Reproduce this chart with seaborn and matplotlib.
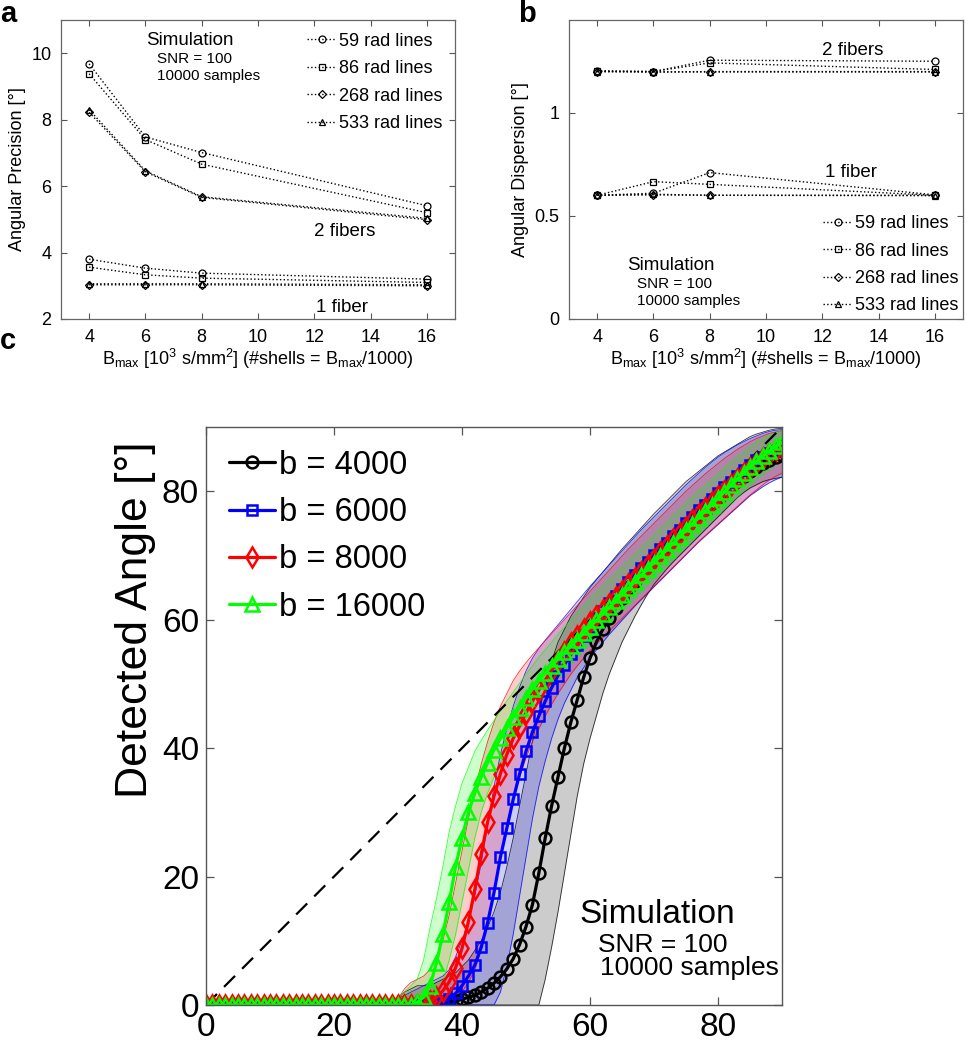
import numpy as np
import matplotlib
matplotlib.use('Agg')
import matplotlib.pyplot as plt
import seaborn as sns

# ---- panel a / b data (B_max in 10^3 s/mm^2) ----
bmax = [4, 6, 8, 16]
rad_labels = ['59 rad lines', '86 rad lines', '268 rad lines', '533 rad lines']
ab_markers = ['o', 's', 'D', '^']

# angular precision, 2 fibers
prec2_59 = [9.68, 7.48, 7.01, 5.41]
prec2_86 = [9.38, 7.40, 6.66, 5.20]
prec2_268 = [8.22, 6.43, 5.66, 4.99]
prec2_533 = [8.30, 6.46, 5.68, 5.03]
# angular precision, 1 fiber
prec1_59 = [3.80, 3.53, 3.38, 3.20]
prec1_86 = [3.56, 3.33, 3.23, 3.10]
prec1_268 = [3.03, 3.03, 3.03, 3.00]
prec1_533 = [3.06, 3.06, 3.06, 3.03]

# angular dispersion, 2 fibers
disp2_59 = [1.203, 1.200, 1.255, 1.250]
disp2_86 = [1.203, 1.200, 1.242, 1.210]
disp2_268 = [1.200, 1.198, 1.200, 1.200]
disp2_533 = [1.200, 1.198, 1.198, 1.198]
# angular dispersion, 1 fiber
disp1_59 = [0.600, 0.610, 0.710, 0.602]
disp1_86 = [0.600, 0.666, 0.653, 0.600]
disp1_268 = [0.600, 0.602, 0.600, 0.600]
disp1_533 = [0.600, 0.605, 0.600, 0.598]

# ---- panel c data: true crossing angle vs detected angle ----
angle = np.arange(0, 91)
b_labels = ['b = 4000', 'b = 6000', 'b = 8000', 'b = 16000']

b4000 = [0.0] * 37 + [
    0.2, 0.4, 0.6, 0.9, 1.2, 1.5, 2.0, 2.6, 3.4, 4.4,
    5.6, 7.2, 9.4, 12.2, 15.6, 20.5, 26.0, 31.0, 35.5, 40.0,
    44.0, 47.5, 51.0, 54.0, 56.5, 58.5, 60.2, 61.8, 63.3, 64.7,
    66.0, 67.2, 68.4, 69.5, 70.5, 71.5, 72.5, 73.5, 74.5, 75.5,
    76.4, 77.3, 78.2, 79.1, 80.0, 80.8, 81.6, 82.4, 83.1, 83.8,
    84.4, 84.9, 85.3, 85.6]
b4000_lo = [0.0] * 53 + [
    4.0, 9.0, 14.5, 20.5, 26.5, 32.5, 37.5, 41.5, 45.0, 48.5,
    51.5, 54.0, 56.5, 58.5, 60.5, 62.3, 64.0, 65.5, 66.7, 67.9,
    69.0, 70.0, 71.0, 72.0, 73.0, 74.0, 75.0, 76.0, 77.0, 78.0,
    79.0, 79.8, 80.5, 81.0, 81.5, 81.8, 82.0, 82.2]
b4000_hi = [0.5] * 30 + [
    1.0, 2.0, 2.5, 3.0, 3.0, 3.0, 3.5, 4.0, 4.5, 5.0,
    6.0, 7.0, 8.5, 10.0, 12.0, 14.5, 17.5, 21.5, 26.0, 31.0,
    36.0, 41.0, 45.5, 49.5, 53.5, 56.5, 58.5, 60.5, 62.0, 63.5,
    65.0, 66.2, 67.4, 68.6, 69.8, 71.0, 72.1, 73.2, 74.3, 75.4,
    76.5, 77.5, 78.5, 79.5, 80.5, 81.5, 82.3, 83.1, 83.9, 84.7,
    85.5, 86.1, 86.7, 87.3, 87.9, 88.5, 88.9, 89.2, 89.5, 89.7, 89.8]

b6000 = [0.0] * 36 + [
    0.3, 0.6, 1.0, 1.8, 3.0, 4.5, 6.2, 9.0, 12.8, 17.5,
    23.0, 27.5, 32.0, 36.0, 39.5, 42.5, 45.0, 47.3, 49.4, 51.3,
    53.0, 54.6, 56.1, 57.5, 58.9, 60.2, 61.4, 62.6, 63.7, 64.8,
    65.9, 67.0, 68.0, 69.0, 70.0, 71.0, 72.0, 73.0, 74.0, 75.0,
    76.0, 77.0, 77.9, 78.8, 79.7, 80.6, 81.5, 82.4, 83.3, 84.1,
    84.8, 85.4, 85.9, 86.2, 86.3]
b6000_lo = [0.0] * 46 + [
    2.0, 6.0, 11.0, 17.0, 23.0, 29.0, 34.0, 38.0, 41.5, 44.5,
    47.0, 49.0, 51.0, 52.5, 54.0, 55.3, 56.5, 57.7, 58.8, 59.9,
    61.0, 62.1, 63.1, 64.1, 65.1, 66.1, 67.1, 68.1, 69.1, 70.1,
    71.1, 72.1, 73.0, 73.9, 74.8, 75.7, 76.6, 77.5, 78.4, 79.3,
    80.0, 80.7, 81.3, 81.8, 82.2]
b6000_hi = [0.5] * 30 + [
    1.0, 1.5, 2.0, 2.5, 3.0, 3.5, 4.0, 4.5, 5.5, 7.5,
    10.0, 13.0, 17.0, 22.0, 28.0, 34.0, 39.0, 43.0, 46.5, 49.5,
    52.0, 54.0, 55.5, 56.8, 58.0, 59.2, 60.4, 61.6, 62.8, 64.0,
    65.2, 66.3, 67.4, 68.5, 69.6, 70.7, 71.8, 72.9, 74.0, 75.0,
    76.0, 77.0, 78.0, 79.0, 80.0, 81.0, 81.9, 82.8, 83.7, 84.5,
    85.3, 86.0, 86.6, 87.2, 87.7, 88.2, 88.6, 89.0, 89.3, 89.5, 89.6]

b8000 = [0.0] * 34 + [
    0.3, 0.6, 1.2, 2.2, 3.6, 5.8, 8.8, 13.0, 18.0, 23.5,
    28.5, 32.5, 36.0, 39.0, 41.5, 43.5, 45.5, 47.3, 49.0, 50.6,
    52.1, 53.6, 55.0, 56.3, 57.5, 58.6, 59.6, 60.6, 61.5, 62.5,
    63.5, 64.5, 65.5, 66.5, 67.5, 68.5, 69.5, 70.5, 71.5, 72.5,
    73.5, 74.5, 75.5, 76.5, 77.4, 78.3, 79.2, 80.1, 81.0, 81.9,
    82.8, 83.6, 84.4, 85.1, 85.8, 86.4, 86.9]
b8000_lo = [0.0] * 38 + [
    0.5, 1.0, 2.0, 3.5, 5.5, 8.5, 13.0, 18.0, 23.0, 28.0,
    32.0, 35.5, 38.5, 41.0, 43.0, 45.0, 46.8, 48.5, 50.0, 51.5,
    52.8, 54.0, 55.2, 56.2, 57.2, 58.2, 59.2, 60.2, 61.2, 62.2,
    63.2, 64.2, 65.2, 66.2, 67.2, 68.2, 69.2, 70.2, 71.2, 72.2,
    73.1, 74.0, 74.9, 75.8, 76.7, 77.6, 78.5, 79.4, 80.2, 81.0,
    81.7, 82.3, 82.8]
b8000_hi = [0.5] * 30 + [
    1.0, 2.5, 3.5, 4.0, 4.5, 5.5, 7.5, 10.0, 14.0, 19.0,
    24.0, 29.0, 33.5, 37.5, 41.0, 44.0, 46.5, 48.5, 50.5, 52.0,
    53.3, 54.5, 55.6, 56.7, 57.8, 58.9, 60.0, 61.1, 62.2, 63.3,
    64.4, 65.5, 66.6, 67.7, 68.8, 69.9, 71.0, 72.0, 73.0, 74.0,
    75.0, 76.0, 77.0, 78.0, 79.0, 80.0, 80.9, 81.8, 82.7, 83.5,
    84.3, 85.1, 85.8, 86.5, 87.1, 87.7, 88.2, 88.6, 89.0, 89.2, 89.4]

b16000 = [0.0] * 33 + [
    0.4, 1.2, 3.0, 6.5, 11.0, 16.0, 21.5, 26.0, 30.0, 33.0,
    35.5, 37.7, 39.7, 41.5, 43.2, 44.8, 46.3, 47.8, 49.2, 50.5,
    51.7, 52.8, 53.9, 54.9, 55.9, 56.9, 57.9, 58.9, 59.9, 60.9,
    61.9, 62.9, 63.9, 64.9, 65.9, 66.9, 67.9, 68.9, 69.9, 70.9,
    71.9, 72.9, 73.9, 74.9, 75.9, 76.9, 77.9, 78.9, 79.9, 80.9,
    81.9, 82.9, 83.8, 84.7, 85.5, 86.3, 87.0, 87.6]
b16000_lo = [0.0] * 35 + [
    0.5, 1.5, 3.5, 7.0, 11.0, 16.0, 21.0, 26.0, 30.0, 33.0,
    35.5, 37.5, 39.5, 41.3, 43.0, 44.5, 45.9, 47.2, 48.5, 49.7,
    50.9, 52.0, 53.1, 54.2, 55.3, 56.4, 57.4, 58.4, 59.4, 60.4,
    61.4, 62.4, 63.4, 64.4, 65.4, 66.4, 67.4, 68.4, 69.4, 70.4,
    71.4, 72.4, 73.4, 74.4, 75.4, 76.4, 77.3, 78.2, 79.1, 80.0,
    80.9, 81.8, 82.6, 83.4, 84.1, 84.7]
b16000_hi = [0.5] * 30 + [
    1.0, 2.0, 3.0, 4.0, 7.0, 12.0, 16.5, 21.5, 27.0, 31.0,
    34.5, 37.0, 39.5, 41.2, 42.8, 44.3, 45.8, 47.3, 48.7, 50.1,
    51.5, 52.8, 54.1, 55.3, 56.5, 57.7, 58.8, 59.9, 61.0, 62.1,
    63.2, 64.2, 65.2, 66.2, 67.2, 68.2, 69.2, 70.2, 71.2, 72.2,
    73.2, 74.2, 75.2, 76.2, 77.2, 78.2, 79.1, 80.0, 80.9, 81.8,
    82.7, 83.6, 84.5, 85.3, 86.1, 86.9, 87.6, 88.2, 88.7, 89.1, 89.4]

# ---- style ----
sns.set_style('ticks', {'xtick.direction': 'in', 'ytick.direction': 'in'})
plt.rcParams['font.family'] = ['Liberation Sans', 'DejaVu Sans']
plt.rcParams['mathtext.fontset'] = 'custom'
plt.rcParams['mathtext.rm'] = 'Liberation Sans'
plt.rcParams['mathtext.default'] = 'regular'
plt.rcParams['text.color'] = 'black'
plt.rcParams['axes.labelcolor'] = 'black'
plt.rcParams['xtick.labelcolor'] = 'black'
plt.rcParams['ytick.labelcolor'] = 'black'

fig = plt.figure(figsize=(9.65, 10.5), dpi=100)
W, H = 965, 1050
ax_a = fig.add_axes([61 / W, 1 - 319 / H, 394 / W, 299 / H])
ax_b = fig.add_axes([569 / W, 1 - 319 / H, 394 / W, 299 / H])
ax_c = fig.add_axes([206 / W, 1 - 1005 / H, 576 / W, 578 / H])

xlab = r'B$_{max}$ [10$^{3}$ s/mm$^{2}$] (#shells = B$_{max}$/1000)'
fs_small = 13


def line_panel(ax, two_fib, one_fib):
    for vals, m in zip(two_fib + one_fib, ab_markers + ab_markers):
        sns.lineplot(x=bmax, y=vals, ax=ax, color='k', linestyle=':', linewidth=1.0,
                     marker=m, markersize=5 if m != 'D' else 4, markerfacecolor='none',
                     markeredgecolor='k', markeredgewidth=0.9)
    ax.set_xlim(3, 17)
    ax.set_xticks([4, 6, 8, 10, 12, 14, 16])
    ax.set_xlabel(xlab, fontsize=fs_small, labelpad=1)
    ax.tick_params(labelsize=fs_small, top=True, right=True, length=4,
                   width=0.8, color='#555555', pad=7)
    for s in ax.spines.values():
        s.set_color('#666666')
        s.set_linewidth(0.9)


# panel a
line_panel(ax_a, [prec2_59, prec2_86, prec2_268, prec2_533],
           [prec1_59, prec1_86, prec1_268, prec1_533])
ax_a.set_ylim(2, 11)
ax_a.set_yticks([2, 4, 6, 8, 10])
ax_a.set_ylabel('Angular Precision [°]', fontsize=fs_small, labelpad=4)
ax_a.legend(handles=ax_a.lines[:4], labels=rad_labels, loc='upper right',
            frameon=False, fontsize=13, handlelength=1.6, handletextpad=0.15,
            labelspacing=0.58, borderaxespad=0.5, borderpad=0.2)
ax_a.text(0.216, 0.916, 'Simulation', transform=ax_a.transAxes, fontsize=13.5)
ax_a.text(0.244, 0.856, 'SNR = 100', transform=ax_a.transAxes, fontsize=11)
ax_a.text(0.244, 0.800, '10000 samples', transform=ax_a.transAxes, fontsize=11)
ax_a.text(12.0, 4.5, '2 fibers', fontsize=13.5)
ax_a.text(12.05, 2.2, '1 fiber', fontsize=13.5)

# panel b
line_panel(ax_b, [disp2_59, disp2_86, disp2_268, disp2_533],
           [disp1_59, disp1_86, disp1_268, disp1_533])
ax_b.set_ylim(0, 1.45)
ax_b.set_yticks([0, 0.5, 1])
ax_b.set_yticklabels(['0', '0.5', '1'])
ax_b.set_ylabel('Angular Dispersion [°]', fontsize=fs_small, labelpad=4)
ax_b.legend(handles=ax_b.lines[:4], labels=rad_labels, loc='lower right',
            frameon=False, fontsize=13, handlelength=1.6, handletextpad=0.15,
            labelspacing=0.58, borderaxespad=0.05, borderpad=0.2)
ax_b.text(0.147, 0.164, 'Simulation', transform=ax_b.transAxes, fontsize=13.5)
ax_b.text(0.172, 0.104, 'SNR = 100', transform=ax_b.transAxes, fontsize=11)
ax_b.text(0.172, 0.047, '10000 samples', transform=ax_b.transAxes, fontsize=11)
ax_b.text(12.0, 1.28, '2 fibers', fontsize=13.5)
ax_b.text(12.1, 0.69, '1 fiber', fontsize=13.5)

# panel c
c_colors = ['#000000', '#0000ff', '#ff0000', '#00ff00']
c_markers = ['o', 's', 'd', '^']
c_msize = [8.5, 7.5, 10.5, 9.5]
means = [b4000, b6000, b8000, b16000]
lows = [b4000_lo, b6000_lo, b8000_lo, b16000_lo]
highs = [b4000_hi, b6000_hi, b8000_hi, b16000_hi]

for lo, hi, c in zip(lows, highs, c_colors):
    ax_c.fill_between(angle, lo, hi, color=c, alpha=0.2, linewidth=0)
    ax_c.plot(angle, lo, color=c, linewidth=0.6, alpha=0.8)
    ax_c.plot(angle, hi, color=c, linewidth=0.6, alpha=0.8)

ax_c.plot([0, 90], [0, 90], color='k', linewidth=1.6, dashes=(7, 4.5))

mean_lines = []
for y, c, m, ms in zip(means, c_colors, c_markers, c_msize):
    sns.lineplot(x=angle, y=y, ax=ax_c, color=c, linewidth=2.3, marker=m,
                 markersize=ms, markerfacecolor='none', markeredgecolor=c,
                 markeredgewidth=1.8)
    mean_lines.append(ax_c.lines[-1])

ax_c.set_xlim(0, 90)
ax_c.set_ylim(0, 90)
ax_c.set_xticks([0, 20, 40, 60, 80])
ax_c.set_yticks([0, 20, 40, 60, 80])
ax_c.set_ylabel('Detected Angle [°]', fontsize=32)
ax_c.yaxis.set_label_coords(-0.086, 0.666)
ax_c.tick_params(labelsize=24, top=True, right=True, length=6, width=0.9,
                 color='#555555', pad=5)
for s in ax_c.spines.values():
    s.set_color('#555555')
    s.set_linewidth(1.0)
ax_c.legend(handles=mean_lines, labels=b_labels, loc='upper left', frameon=False,
            fontsize=23.5, handlelength=1.4, handletextpad=0.15, labelspacing=0.5,
            borderaxespad=0.5, borderpad=0.2)
ax_c.text(0.649, 0.142, 'Simulation', transform=ax_c.transAxes, fontsize=24)
ax_c.text(0.68, 0.092, 'SNR = 100', transform=ax_c.transAxes, fontsize=19)
ax_c.text(0.684, 0.052, '10000 samples', transform=ax_c.transAxes, fontsize=19)

# panel letters
fig.text(0.0, 1 - 22 / H, 'a', fontsize=21, fontweight='bold')
fig.text(518 / W, 1 - 22 / H, 'b', fontsize=21, fontweight='bold')
fig.text(0.0, 1 - 349 / H, 'c', fontsize=21, fontweight='bold')

fig.savefig('out.png', dpi=100)
